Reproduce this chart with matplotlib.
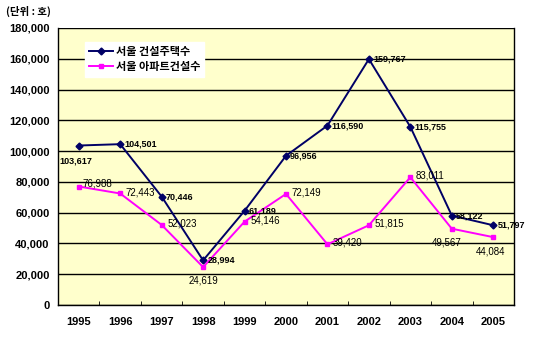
import matplotlib
matplotlib.use("Agg")
import matplotlib.pyplot as plt

plt.rcParams['font.family'] = ['Noto Sans CJK KR', 'DejaVu Sans']

years = ['1995', '1996', '1997', '1998', '1999', '2000', '2001', '2002', '2003', '2004', '2005']
housing = [103617, 104501, 70446, 28994, 61189, 96956, 116590, 159767, 115755, 58122, 51797]
apart = [76988, 72443, 52023, 24619, 54146, 72149, 39420, 51815, 83011, 49567, 44084]
series_names = ['서울 건설주택수', '서울 아파트건설수']
yticks = list(range(0, 180001, 20000))

NUMFONT = 'Liberation Sans'

fig = plt.figure(figsize=(5.5, 3.37), dpi=100)
ax = fig.add_axes([0.1055, 0.095, 0.829, 0.822])
ax.set_facecolor('#FFFFCC')

x = list(range(len(years)))
ax.plot(x, housing, color='#000066', lw=1.4, marker='D', ms=3.5, label=series_names[0], zorder=3)
ax.plot(x, apart, color='#FF00FF', lw=1.4, marker='s', ms=3.5, label=series_names[1], zorder=3)

ax.set_xlim(-0.5, len(years) - 0.5)
ax.set_ylim(0, 180000)
ax.set_yticks(yticks)
ax.set_yticklabels([f'{v:,}' for v in yticks], fontsize=8, fontweight='bold', family=NUMFONT)
ax.set_xticks(x)
ax.set_xticklabels(years, fontsize=8, fontweight='bold', family=NUMFONT)
ax.set_xticks([i + 0.5 for i in x[:-1]], minor=True)
ax.tick_params(axis='x', which='major', length=0, pad=9)
ax.tick_params(axis='x', which='minor', length=3, direction='in')
ax.tick_params(axis='y', length=0, pad=6)
ax.grid(axis='y', color='black', lw=1)
ax.set_axisbelow(True)
ax.spines['top'].set_visible(False)
for s in ['left', 'bottom', 'right']:
    ax.spines[s].set_color('black')
    ax.spines[s].set_linewidth(1)

# blue labels
for i, v in enumerate(housing):
    if i == 0:
        ax.annotate(f'{v:,}', (i, v), xytext=(-14, -11), textcoords='offset points',
                    fontsize=6.5, fontweight='bold', family=NUMFONT, va='center', ha='left')
    else:
        ax.annotate(f'{v:,}', (i, v), xytext=(3, 0), textcoords='offset points',
                    fontsize=6.5, fontweight='bold', family=NUMFONT, va='center', ha='left')

# pink labels
offs = {0: (3, 2), 3: (0, -10), 9: (-4, -10), 10: (-2, -10)}
for i, v in enumerate(apart):
    dx, dy = offs.get(i, (4, 1))
    ha = 'center' if i in (3, 9, 10) else 'left'
    ax.annotate(f'{v:,}', (i, v), xytext=(dx, dy), textcoords='offset points',
                fontsize=7, family=NUMFONT, va='center', ha=ha)

leg = ax.legend(loc='upper left', bbox_to_anchor=(0.06, 0.95), frameon=True,
                prop={'size': 8, 'weight': 'bold'},
                handlelength=2.2, handletextpad=0.3, borderpad=0.3, labelspacing=0.2,
                fancybox=False, borderaxespad=0)
leg.get_frame().set_edgecolor('white')
leg.get_frame().set_facecolor('white')
leg.get_frame().set_alpha(1)

fig.text(0.01, 0.965, '(단위 : 호)', fontsize=7.5, fontweight='bold', ha='left', va='center')

fig.savefig('out.png', dpi=100, facecolor='white')
